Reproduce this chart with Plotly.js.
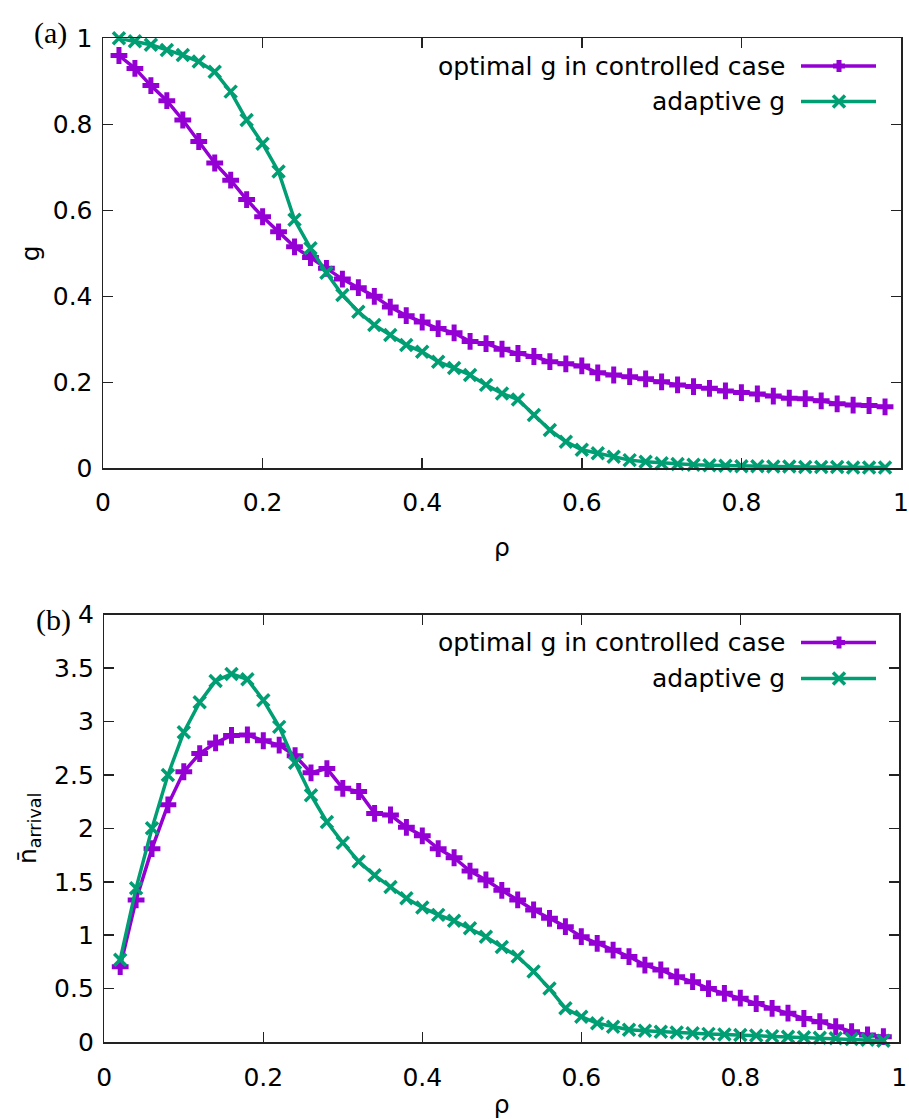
<!DOCTYPE html>
<html>
<head>
<meta charset="utf-8">
<script src="https://cdn.plot.ly/plotly-3.0.1.min.js"></script>
<style>html,body{margin:0;padding:0;background:#fff;}#chart{width:909px;height:1119px;}</style>
</head>
<body>
<div id="chart"></div>
<script>
// ---- data ----
var rho = [0.02,0.04,0.06,0.08,0.10,0.12,0.14,0.16,0.18,0.20,0.22,0.24,0.26,0.28,0.30,0.32,0.34,0.36,0.38,0.40,
           0.42,0.44,0.46,0.48,0.50,0.52,0.54,0.56,0.58,0.60,0.62,0.64,0.66,0.68,0.70,0.72,0.74,0.76,0.78,0.80,
           0.82,0.84,0.86,0.88,0.90,0.92,0.94,0.96,0.98];

var gOptimal = [0.96,0.93,0.89,0.855,0.81,0.76,0.71,0.67,0.625,0.585,0.55,0.515,0.49,0.465,0.44,0.42,0.40,0.375,0.355,0.34,
                0.325,0.315,0.295,0.29,0.277,0.267,0.26,0.248,0.243,0.238,0.222,0.217,0.213,0.208,0.201,0.194,0.19,0.186,0.18,0.176,
                0.173,0.168,0.163,0.162,0.157,0.15,0.147,0.146,0.143];

var gAdaptive = [1.0,0.993,0.985,0.973,0.961,0.946,0.922,0.876,0.81,0.755,0.69,0.578,0.512,0.455,0.403,0.364,0.333,0.31,0.287,0.271,
                 0.248,0.233,0.217,0.194,0.174,0.16,0.124,0.089,0.062,0.043,0.035,0.027,0.019,0.015,0.012,0.01,0.008,0.007,0.006,0.005,
                 0.005,0.004,0.004,0.003,0.003,0.003,0.002,0.002,0.002];

var nOptimal = [0.705,1.33,1.81,2.22,2.53,2.70,2.80,2.87,2.875,2.82,2.78,2.68,2.52,2.56,2.375,2.345,2.14,2.125,2.01,1.93,
                1.81,1.725,1.60,1.517,1.42,1.33,1.236,1.158,1.08,0.986,0.924,0.86,0.80,0.72,0.674,0.61,0.565,0.50,0.456,0.41,
                0.36,0.315,0.27,0.22,0.19,0.143,0.096,0.066,0.05];

var nAdaptive = [0.77,1.44,2.0,2.5,2.90,3.18,3.38,3.445,3.395,3.2,2.95,2.615,2.31,2.06,1.865,1.69,1.56,1.45,1.345,1.26,
                 1.19,1.135,1.065,0.986,0.89,0.80,0.66,0.50,0.315,0.237,0.175,0.143,0.115,0.105,0.096,0.09,0.082,0.076,0.07,0.065,
                 0.06,0.055,0.05,0.045,0.04,0.035,0.028,0.02,0.012];

var seriesNames = ["optimal g in controlled case", "adaptive g"];
var xTicks = [0,0.2,0.4,0.6,0.8,1];
var xTickText = ["0","0.2","0.4","0.6","0.8","1"];
var gTicks = [0,0.2,0.4,0.6,0.8,1];
var gTickText = ["0","0.2","0.4","0.6","0.8","1"];
var nTicks = [0,0.5,1,1.5,2,2.5,3,3.5,4];
var nTickText = ["0","0.5","1","1.5","2","2.5","3","3.5","4"];

// ---- styling ----
var W = 909, H = 1119;
var PURPLE = "#9400D3", GREEN = "#009E73";
var FONT = "DejaVu Sans";
function px(x){ return x / W; }
function py(y){ return 1 - y / H; }

function purpleTrace(y, xa, ya){
  return {x: rho, y: y, xaxis: xa, yaxis: ya, type: "scatter", mode: "lines+markers", cliponaxis: false,
    name: seriesNames[0], showlegend: false,
    line: {color: PURPLE, width: 3.5},
    marker: {symbol: "cross-thin-open", size: 12, color: PURPLE, line: {color: PURPLE, width: 5}}};
}
function greenTrace(y, xa, ya){
  return {x: rho, y: y, xaxis: xa, yaxis: ya, type: "scatter", mode: "lines+markers", cliponaxis: false,
    name: seriesNames[1], showlegend: false,
    line: {color: GREEN, width: 3.5},
    marker: {symbol: "x-thin-open", size: 12, color: GREEN, line: {color: GREEN, width: 3.5}}};
}

var data = [
  purpleTrace(gOptimal, "x", "y"),
  greenTrace(gAdaptive, "x", "y"),
  purpleTrace(nOptimal, "x2", "y2"),
  greenTrace(nAdaptive, "x2", "y2")
];

function axisBase(){
  return {showgrid: false, zeroline: false, showline: true, linecolor: "#222", linewidth: 1.5,
    mirror: "ticks", ticks: "inside", ticklen: 10, tickwidth: 1.5, tickcolor: "#222",
    tickfont: {family: FONT, size: 25, color: "#000"}, automargin: false, fixedrange: true};
}

var xa = axisBase();
Object.assign(xa, {domain: [px(103), px(901)], range: [0,1], tickmode: "array", tickvals: xTicks, ticktext: xTickText,
  anchor: "y", ticklabelstandoff: 11,
  title: {text: "ρ", font: {family: FONT, size: 25, color: "#000"}, standoff: 22}});
var ya = axisBase();
Object.assign(ya, {domain: [py(468.3), py(38.3)], range: [0,1], tickmode: "array", tickvals: gTicks, ticktext: gTickText,
  anchor: "x", ticklabelstandoff: 4,
  title: {text: "g", font: {family: FONT, size: 25, color: "#000"}, standoff: 6}});
var xa2 = axisBase();
Object.assign(xa2, {domain: [px(104.3), px(899.3)], range: [0,1], tickmode: "array", tickvals: xTicks, ticktext: xTickText,
  anchor: "y2", ticklabelstandoff: 12,
  title: {text: "ρ", font: {family: FONT, size: 25, color: "#000"}, standoff: 10}});
var ya2 = axisBase();
Object.assign(ya2, {domain: [py(1042), py(614.7)], range: [0,4], tickmode: "array", tickvals: nTicks, ticktext: nTickText,
  anchor: "x2", ticklabelstandoff: 4,
  title: {text: "n\u0304<sub>arrival</sub>", font: {family: FONT, size: 25, color: "#000"}, standoff: 10}});

// legend drawn as annotations + short line samples (text left, sample right, as in the original)
var annotations = [];
var shapes = [];
function legendEntry(textY, label, color, sym){
  annotations.push({xref: "paper", yref: "paper", x: px(787), y: py(textY), xanchor: "right", yanchor: "middle",
    text: label, showarrow: false, font: {family: FONT, size: 25, color: "#000"}});
  shapes.push({type: "line", xref: "paper", yref: "paper", x0: px(801), x1: px(876), y0: py(textY), y1: py(textY),
    line: {color: color, width: 3.5}});
  var cx = 839, cy = textY, a = 6;
  var path = sym === "plus"
    ? "M" + px(cx - a) + "," + py(cy) + " L" + px(cx + a) + "," + py(cy) + " M" + px(cx) + "," + py(cy - a) + " L" + px(cx) + "," + py(cy + a)
    : "M" + px(cx - a) + "," + py(cy - a) + " L" + px(cx + a) + "," + py(cy + a) + " M" + px(cx - a) + "," + py(cy + a) + " L" + px(cx + a) + "," + py(cy - a);
  shapes.push({type: "path", xref: "paper", yref: "paper", path: path, line: {color: color, width: sym === "plus" ? 5 : 3.5}});
}
legendEntry(66, seriesNames[0], PURPLE, "plus");
legendEntry(101.5, seriesNames[1], GREEN, "x");
legendEntry(642.5, seriesNames[0], PURPLE, "plus");
legendEntry(678.5, seriesNames[1], GREEN, "x");

annotations.push({xref: "paper", yref: "paper", x: px(50), y: py(33), xanchor: "center", yanchor: "middle",
  text: "(a)", showarrow: false, font: {family: "Liberation Serif", size: 30, color: "#000"}});
annotations.push({xref: "paper", yref: "paper", x: px(53), y: py(620), xanchor: "center", yanchor: "middle",
  text: "(b)", showarrow: false, font: {family: "Liberation Serif", size: 30, color: "#000"}});

var layout = {
  width: W, height: H,
  margin: {l: 0, r: 0, t: 0, b: 0, pad: 0},
  paper_bgcolor: "#fff", plot_bgcolor: "#fff",
  showlegend: false,
  font: {family: FONT, color: "#000"},
  xaxis: xa, yaxis: ya, xaxis2: xa2, yaxis2: ya2,
  annotations: annotations, shapes: shapes
};

Plotly.newPlot("chart", data, layout, {displayModeBar: false, staticPlot: true});
</script>
</body>
</html>
